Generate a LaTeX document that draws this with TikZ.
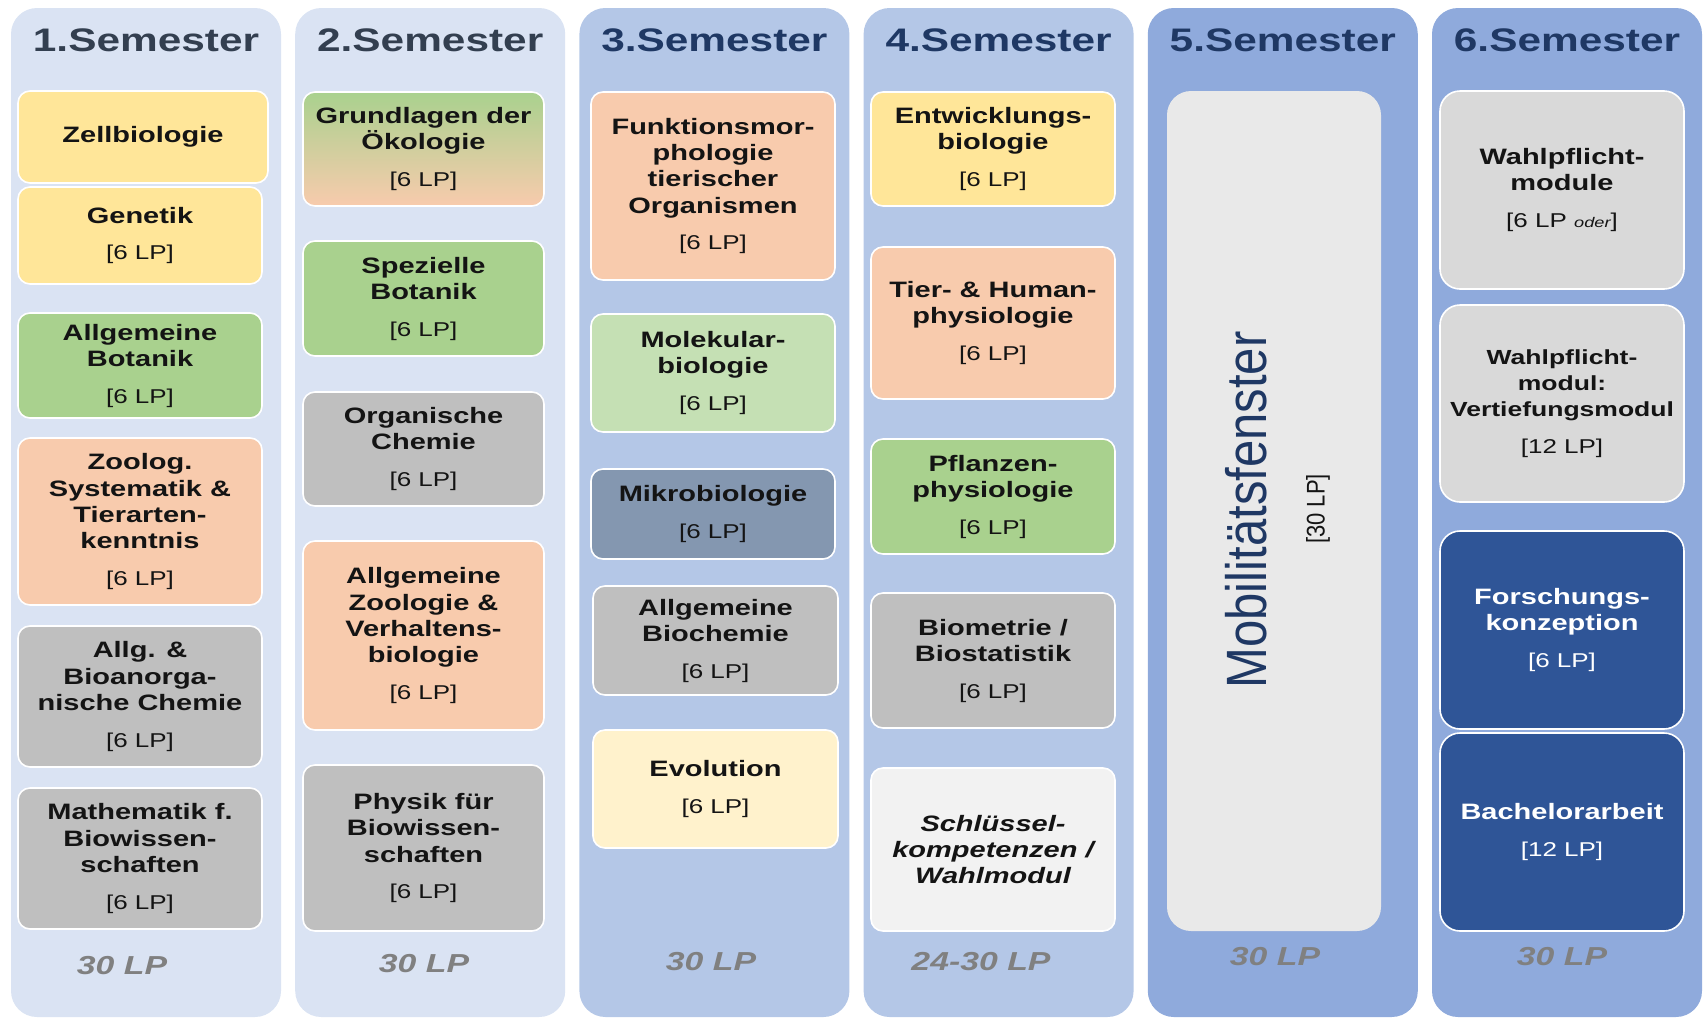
\documentclass[tikz,border=0pt]{standalone}
\usepackage{fontspec}
\setmainfont{Liberation Sans}[FakeStretch=1.3]
\newfontfamily\mobilfont{Liberation Sans}

\definecolor{semhell}{HTML}{DAE3F3}
\definecolor{semmittel}{HTML}{B4C7E7}
\definecolor{semdunkel}{HTML}{8FAADC}
\definecolor{kopfgrau}{HTML}{333F50}
\definecolor{kopfblau}{HTML}{1F3864}
\definecolor{gelb}{HTML}{FFE699}
\definecolor{gruen}{HTML}{A9D18E}
\definecolor{lachs}{HTML}{F8CBAD}
\definecolor{grau}{HTML}{BFBFBF}
\definecolor{hellgruen}{HTML}{C5E0B4}
\definecolor{schiefer}{HTML}{8497B0}
\definecolor{creme}{HTML}{FFF2CC}
\definecolor{weissgrau}{HTML}{F2F2F2}
\definecolor{silber}{HTML}{D9D9D9}
\definecolor{marine}{HTML}{2F5597}
\definecolor{summengrau}{HTML}{808080}
\definecolor{mobil}{HTML}{E9E9E9}

\tikzset{
  sem/.style={rounded corners=13pt},
  kopf/.style={font=\fontsize{16.3}{19}\selectfont\bfseries},
  modul/.style={draw=white, line width=0.8pt, rounded corners=6pt, inner sep=0pt,
    align=center, text=black!92, font=\fontsize{11.15}{13.2}\selectfont\bfseries},
  modul6/.style={modul, rounded corners=10pt},
  groesse/.style 2 args={minimum width=#1*0.5pt, minimum height=#2*0.5pt},
  summe/.style={text=summengrau, font=\fontsize{13}{15}\selectfont\bfseries\itshape},
}
\newcommand{\lp}[1]{\\[5.1pt]{\fontsize{10}{12}\selectfont\mdseries #1}}

\begin{document}
\begin{tikzpicture}[x=0.5pt, y=-0.5pt]
\useasboundingbox (0,0) rectangle (1704,1018);

\foreach \i/\f/\k in%
    {1/semhell/kopfgrau,
     2/semhell/kopfgrau,
     3/semmittel/kopfblau,
     4/semmittel/kopfblau,
     5/semdunkel/kopfblau,
     6/semdunkel/kopfblau} {
  \fill[sem, \f] ({11+284.2*(\i-1)}, 8) rectangle ++(270, 1009);
  \node[kopf, text=\k] (kopf_\i) at ({146+284.2*(\i-1)}, 40) {\i.Semester};
}

% 1. Semester
\node[modul, fill=gelb, groesse={250}{92}] (zell) at (143,137) {Zellbiologie};
\node[modul, fill=gelb, groesse={244}{97}] (genetik) at (140,235.5) {Genetik\lp{[6 LP]}};
\node[modul, fill=gruen, groesse={244}{105}] (abot) at (140,365.5) {Allgemeine\\Botanik\lp{[6 LP]}};
\node[modul, fill=lachs, groesse={244}{167}] (zoolog) at (140,521.5) {Zoolog.\\Systematik \&\\Tierarten-\\kenntnis\lp{[6 LP]}};
\node[modul, fill=grau, groesse={244}{141}] (achem) at (140,696.5) {Allg. \&\\Bioanorga-\\nische Chemie\lp{[6 LP]}};
\node[modul, fill=grau, groesse={244}{141}] (mathe) at (140,858.5) {Mathematik f.\\Biowissen-\\schaften\lp{[6 LP]}};

% 2. Semester
\node[modul, top color=gruen, bottom color=lachs, groesse={241}{114}] (oeko) at (423.5,149) {Grundlagen der\\Ökologie\lp{[6 LP]}};
\node[modul, fill=gruen, groesse={241}{115}] (sbot) at (423.5,298.5) {Spezielle\\Botanik\lp{[6 LP]}};
\node[modul, fill=grau, groesse={241}{114}] (ochem) at (423.5,449) {Organische\\Chemie\lp{[6 LP]}};
\node[modul, fill=lachs, groesse={241}{189}] (azoo) at (423.5,635.5) {Allgemeine\\Zoologie \&\\Verhaltens-\\biologie\lp{[6 LP]}};
\node[modul, fill=grau, groesse={241}{166}] (physik) at (423.5,848) {Physik für\\Biowissen-\\schaften\lp{[6 LP]}};

% 3. Semester
\node[modul, fill=lachs, groesse={244}{188}] (funk) at (713,186) {Funktionsmor-\\phologie\\tierischer\\Organismen\lp{[6 LP]}};
\node[modul, fill=hellgruen, groesse={244}{118}] (molbio) at (713,373) {Molekular-\\biologie\lp{[6 LP]}};
\node[modul, fill=schiefer, groesse={244}{90}] (mikro) at (713,514) {Mikrobiologie\lp{[6 LP]}};
\node[modul, fill=grau, groesse={245}{109}] (bchem) at (715.5,640.5) {Allgemeine\\Biochemie\lp{[6 LP]}};
\node[modul, fill=creme, groesse={245}{118}] (evol) at (715.5,789) {Evolution\lp{[6 LP]}};

% 4. Semester
\node[modul, fill=gelb, groesse={244}{114}] (entw) at (993,149) {Entwicklungs-\\biologie\lp{[6 LP]}};
\node[modul, fill=lachs, groesse={244}{152}] (tier) at (993,323) {Tier- \& Human-\\physiologie\lp{[6 LP]}};
\node[modul, fill=gruen, groesse={244}{115}] (pflanz) at (993,496.5) {Pflanzen-\\physiologie\lp{[6 LP]}};
\node[modul, fill=grau, groesse={244}{135}] (biom) at (993,660.5) {Biometrie /\\Biostatistik\lp{[6 LP]}};
\node[modul, fill=weissgrau, font=\fontsize{11.15}{13.2}\selectfont\bfseries\itshape,
  groesse={244}{163}] (schluessel) at (993,849.5) {Schlüssel-\\kompetenzen /\\Wahlmodul};

% 5. Semester
\node[fill=mobil, rounded corners=12pt, inner sep=0pt, groesse={214}{840}] (mobil) at (1274,511) {};
\node[rotate=90, text=kopfblau, font=\mobilfont\fontsize{24.5}{28}\selectfont]
  (mobil_t) at (1246,510) {\scalebox{1}[1.16]{Mobilitätsfenster}};
\node[rotate=90, text=black!92, font=\mobilfont\fontsize{11}{13}\selectfont]
  (mobil_lp) at (1318,509) {\scalebox{1}[1.16]{[30 LP]}};

% 6. Semester
\node[modul6, fill=silber, groesse={244}{198}] (wpm) at (1562,190) {Wahlpflicht-\\module\lp{[6 LP {\fontsize{7}{8}\selectfont\itshape oder}]}};
\node[modul6, fill=silber, font=\fontsize{10.2}{13.2}\selectfont\bfseries,
  groesse={244}{197}] (wpv) at (1562,403.5) {Wahlpflicht-\\modul:\\Vertiefungsmodul\lp{[12 LP]}};
\node[modul6, fill=marine, text=white, groesse={244}{198}] (forsch) at (1562,630) {Forschungs-\\konzeption\lp{[6 LP]}};
\node[modul6, fill=marine, text=white, groesse={244}{198}] (bachelor) at (1562,832) {Bachelorarbeit\lp{[12 LP]}};

\foreach \i/\x/\y/\t in%
    {1/122/966/30 LP,
     2/424/964/30 LP,
     3/711/962/30 LP,
     4/981/962/24-30 LP,
     5/1275/957/30 LP,
     6/1562/957/30 LP} {
  \node[summe] (summe_\i) at (\x, \y) {\t};
}

\end{tikzpicture}
\end{document}
